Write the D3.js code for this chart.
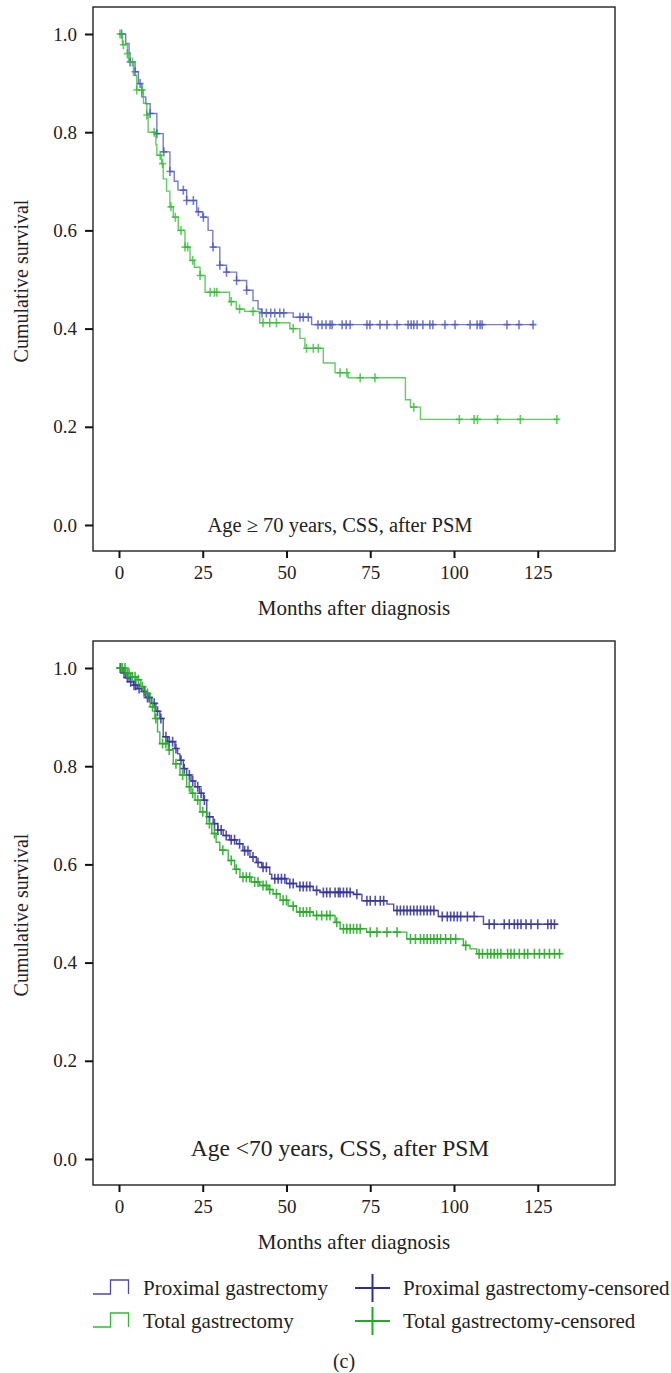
<!DOCTYPE html>
<meta charset="utf-8">
<style>
body { margin: 0; background: #fff; }
svg text { font-family: "Liberation Serif", "Times New Roman", serif; fill: #222; }
.frame { fill: none; stroke: #222; stroke-width: 1.4; }
.tick line { stroke: #111; stroke-width: 2; }
.curve { fill: none; }
</style>
<body>
<svg width="671" height="1373"></svg>
<script src="https://d3js.org/d3.v7.min.js"></script>
<script>

// ---- data ----
var xTicks = [0, 25, 50, 75, 100, 125];
var yTicks = [0.0, 0.2, 0.4, 0.6, 0.8, 1.0];

// top panel: age >= 70
var topProxSteps = [[0,1],[2,0.981],[3,0.962],[3.3,0.943],[4.8,0.923],[5.8,0.899],[6.8,0.872],[8,0.858],[9.3,0.838],[11.3,0.797],[13.2,0.76],[15.2,0.72],[16.5,0.70],[17.6,0.682],[20.2,0.661],[23.2,0.638],[25,0.627],[26.6,0.60],[28,0.566],[30.1,0.529],[32.1,0.515],[35.1,0.498],[38.1,0.478],[40,0.457],[41.5,0.44],[42.5,0.432],[52,0.423],[57.5,0.408]];
var topProxEnd = 124;
var topProxCensor = [0.8,3.3,4.8,6.3,9.3,11.3,13.4,15.2,19.2,20.2,22.2,23.7,25.2,28.1,30.1,32.1,35.1,38.1,42.7,44,45.3,46.5,48,49.2,54,55,56.5,59.4,60.6,61.8,63,63.6,66.6,67.8,69,74,74.9,77.9,80,83,86.3,87.2,88,89,90.7,92.8,93.7,97.3,100.3,104.8,106.9,107.8,108.4,115.8,119.4,123.6];

var topTotSteps = [[0,1],[1,0.978],[2.5,0.96],[2.8,0.943],[4.3,0.916],[5.3,0.886],[7.3,0.859],[8.3,0.835],[8.7,0.80],[11,0.775],[11.3,0.753],[12.7,0.736],[13.2,0.705],[14.2,0.68],[15.2,0.648],[16.2,0.627],[17.7,0.60],[19.7,0.566],[21.2,0.539],[22.5,0.525],[24.2,0.508],[25.7,0.474],[33,0.455],[35,0.44],[37.5,0.435],[42,0.412],[51,0.40],[54,0.38],[55.5,0.36],[61,0.33],[64.5,0.31],[68.4,0.30],[85.5,0.255],[87,0.24],[90,0.215]];
var topTotEnd = 131.3;
var topTotCensor = [0.3,1.3,2.5,4,5.3,7,8.3,10.5,12.3,13,15.5,16.8,18.5,19.7,20.5,22,24.2,27.2,28.5,29.2,33.5,36,40,43,45,47,52,56,58,59.5,66,68,72,76.4,88,101.6,106,107,113,119.8,130.7];

// bottom panel: age < 70
var botProxSteps = [[0,1],[1,0.99],[2,0.98],[3,0.972],[4.3,0.965],[5.5,0.958],[6.8,0.952],[8,0.94],[9.8,0.928],[11,0.912],[12.2,0.897],[13.2,0.86],[14.5,0.85],[16.7,0.836],[17.5,0.825],[18.2,0.812],[19.2,0.795],[20.2,0.782],[21.5,0.77],[22.7,0.758],[24,0.745],[25.2,0.731],[26.2,0.697],[28.1,0.683],[29.5,0.67],[31.1,0.659],[33,0.65],[35.1,0.642],[37,0.628],[39.1,0.615],[41,0.604],[42.6,0.594],[45,0.58],[45.6,0.571],[50,0.561],[53,0.555],[58,0.547],[60,0.543],[70,0.539],[72.5,0.526],[80,0.519],[82,0.506],[95.3,0.494],[108.8,0.478]];
var botProxEnd = 131;
var botProxCensor = [0.5,1.5,2.5,3.5,4.5,5,6,7.5,8.5,9,10.5,11.5,12.5,14,15,16,17,18.5,19.5,21,22,23.5,24.5,25.5,27,28.5,29.5,30.5,32,33.5,34.5,36,37.5,38.5,40,41.5,43,44,46.5,47.5,48.5,49.5,51,52,54,55,56,57,59,61,62,63,64.5,65.5,66,67,68,69,71,74,75,76.5,78,79,83,84,85,86,87,88,89,90,91,92,93,94,96.5,98,99,100,101,102,104,106,110.5,112,115,116.5,118,119,120,121.5,123,125,128,129,130];

var botTotSteps = [[0,1],[2,0.989],[3.5,0.982],[5.3,0.976],[6.5,0.962],[7.8,0.948],[9.3,0.921],[10.7,0.897],[11.5,0.87],[12.2,0.846],[14.7,0.833],[16.2,0.805],[18.2,0.782],[20.2,0.758],[21.5,0.745],[22.7,0.731],[24.2,0.707],[26.2,0.683],[27.7,0.663],[29,0.645],[30.1,0.629],[32.6,0.608],[34.5,0.59],[36.1,0.574],[39.5,0.564],[42,0.557],[44.5,0.549],[46,0.540],[48.1,0.527],[50.5,0.515],[53,0.503],[58,0.496],[64.5,0.482],[66,0.469],[73.9,0.462],[85.9,0.448],[102.8,0.435],[104.8,0.428],[106.8,0.418]];
var botTotEnd = 132;
var botTotCensor = [0.3,1,1.8,2.5,3,4,4.8,5.8,7,8.5,10,11,13,14,15,17,19,21,22,23.5,25,27,28.5,31,33.5,35,37,38,39,40.5,41.5,43,44,45,47,49,50,52,54,55,56,57,59,60.5,62,63,65,67,68,69,70,71,72,75,77,80,83,87,88.5,90,91,92,93,94,95,96,97.5,99,100.5,103.5,107.5,108.5,110,111,112,113,114,116,117,118,119.5,121,122,124,125.5,127,128.5,130,131.5];

var seriesNames = ["Proximal gastrectomy", "Total gastrectomy"];
var censorNames = ["Proximal gastrectomy-censored", "Total gastrectomy-censored"];

// ---- layout ----
var svg = d3.select("svg");
var left = 93, right = 615;
var x = d3.scaleLinear().domain([-7.76, 148.06]).range([left, right]);

function survivalAt(steps, t) {
  var s = steps[0][1];
  steps.forEach(function(d) { if (d[0] <= t) s = d[1]; });
  return s;
}

function panel(top, opts) {
  var bottom = top + 544;
  var y = d3.scaleLinear().domain([-0.053, 1.055]).range([bottom, top]);
  var g = svg.append("g");

  g.append("rect").attr("class", "frame")
      .attr("x", left).attr("y", top)
      .attr("width", right - left).attr("height", bottom - top);

  var yAxis = g.append("g").attr("transform", "translate(" + left + ",0)")
      .call(d3.axisLeft(y).tickValues(yTicks).tickSize(8).tickPadding(8).tickFormat(d3.format(".1f")));
  yAxis.select(".domain").remove();
  yAxis.selectAll("text").style("font-size", "19px");

  var xAxis = g.append("g").attr("transform", "translate(0," + bottom + ")")
      .call(d3.axisBottom(x).tickValues(xTicks).tickSize(7).tickPadding(8).tickFormat(d3.format("d")));
  xAxis.select(".domain").remove();
  xAxis.selectAll("text").style("font-size", "19px");

  g.append("text")
      .attr("x", (left + right) / 2).attr("y", bottom + 57)
      .attr("dy", "0.35em").attr("text-anchor", "middle")
      .style("font-size", "21px")
      .text("Months after diagnosis");

  g.append("text")
      .attr("transform", "translate(21," + ((top + bottom) / 2 + 2) + ") rotate(-90)")
      .attr("dy", "0.35em").attr("text-anchor", "middle")
      .style("font-size", "20px")
      .text("Cumulative survival");

  g.append("text")
      .attr("x", 340).attr("y", opts.labelY)
      .attr("dy", "0.35em").attr("text-anchor", "middle")
      .style("font-size", opts.labelSize)
      .text(opts.label);

  var line = d3.line()
      .x(function(d) { return x(d[0]); })
      .y(function(d) { return y(d[1]); })
      .curve(d3.curveStepAfter);

  opts.series.forEach(function(s) {
    var pts = s.steps.concat([[s.end, s.steps[s.steps.length - 1][1]]]);
    g.append("path").attr("class", "curve")
        .attr("d", line(pts))
        .attr("stroke", s.color).attr("stroke-width", opts.lineWidth)
        .attr("stroke-opacity", opts.opacity);

    var h = opts.plus;
    g.append("g").selectAll("path")
        .data(s.censor)
      .join("path")
        .attr("d", function(t) {
          var cx = x(t), cy = y(survivalAt(s.steps, t));
          return "M" + (cx - h) + "," + cy + "H" + (cx + h) + "M" + cx + "," + (cy - h - 1) + "V" + (cy + h + 1);
        })
        .attr("stroke", s.color).attr("stroke-width", opts.lineWidth + 0.2)
        .attr("stroke-opacity", opts.opacity)
        .attr("fill", "none");
  });
}

panel(7, {
  label: "Age \u2265 70 years, CSS, after PSM", labelY: 525, labelSize: "20.5px",
  lineWidth: 1.4, opacity: 0.75, plus: 3.5,
  series: [
    { steps: topProxSteps, end: topProxEnd, censor: topProxCensor, color: "#4650c0" },
    { steps: topTotSteps, end: topTotEnd, censor: topTotCensor, color: "#2fbb2f" }
  ]
});

panel(641, {
  label: "Age <70 years, CSS, after PSM", labelY: 1148, labelSize: "23.5px",
  lineWidth: 1.4, opacity: 0.85, plus: 4,
  series: [
    { steps: botProxSteps, end: botProxEnd, censor: botProxCensor, color: "#33339f" },
    { steps: botTotSteps, end: botTotEnd, censor: botTotCensor, color: "#22aa22" }
  ]
});

// ---- legend ----
var legendColors = ["#4a4ab0", "#33bb33"];
var censorColors = ["#2e2e99", "#22aa22"];
var legendY = [1288, 1321];
var legend = svg.append("g");

legendY.forEach(function(ly, i) {
  legend.append("path")
      .attr("d", "M93," + (ly + 6) + "H110.5V" + (ly - 8) + "H128.5V" + (ly + 6))
      .attr("fill", "none").attr("stroke", legendColors[i]).attr("stroke-width", 1.3);
  legend.append("text")
      .attr("x", 143).attr("y", ly).attr("dy", "0.35em")
      .style("font-size", "21px")
      .text(seriesNames[i]);
  legend.append("path")
      .attr("d", "M355," + ly + "H390M372.5," + (ly - 14) + "V" + (ly + 14))
      .attr("fill", "none").attr("stroke", censorColors[i]).attr("stroke-width", 2);
  legend.append("text")
      .attr("x", 403).attr("y", ly).attr("dy", "0.35em")
      .style("font-size", "21px")
      .text(censorNames[i]);
});

svg.append("text")
    .attr("x", 344).attr("y", 1361).attr("dy", "0.35em")
    .attr("text-anchor", "middle")
    .style("font-size", "20px")
    .text("(c)");

</script>
</body>
